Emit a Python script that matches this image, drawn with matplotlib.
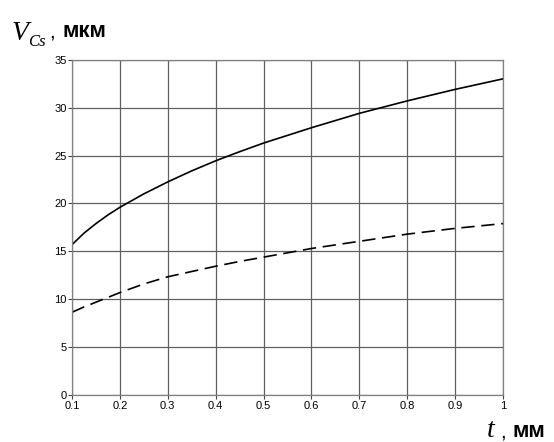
import matplotlib
matplotlib.use('Agg')
import matplotlib.pyplot as plt

# values
t_vals = [0.1, 0.125, 0.15, 0.175, 0.2, 0.25, 0.3, 0.35, 0.4, 0.45, 0.5,
          0.6, 0.7, 0.8, 0.9, 1.0]
v_solid = [15.7, 16.9, 17.9, 18.8, 19.6, 21.0, 22.25, 23.4, 24.45, 25.4, 26.3,
           27.9, 29.4, 30.7, 31.9, 33.0]
v_dashed = [8.65, 9.2, 9.7, 10.2, 10.7, 11.6, 12.35, 12.9, 13.45, 13.95, 14.4,
            15.3, 16.05, 16.8, 17.4, 17.9]

x_ticks = [0.1, 0.2, 0.3, 0.4, 0.5, 0.6, 0.7, 0.8, 0.9, 1.0]
x_labels = ['0.1', '0.2', '0.3', '0.4', '0.5', '0.6', '0.7', '0.8', '0.9', '1']
y_ticks = [0, 5, 10, 15, 20, 25, 30, 35]

fig = plt.figure(figsize=(5.54, 4.42), dpi=100)
ax = fig.add_axes([0.130, 0.106, 0.778, 0.759])

ax.plot(t_vals, v_solid, color='black', lw=1.2)
ax.plot(t_vals, v_dashed, color='black', lw=1.2, dashes=(8, 4))

ax.set_xlim(0.1, 1.0)
ax.set_ylim(0, 35)
ax.set_xticks(x_ticks)
ax.set_xticklabels(x_labels)
ax.set_yticks(y_ticks)
ax.grid(True, color='#606060', lw=0.9)
ax.set_axisbelow(True)

for s in ax.spines.values():
    s.set_color('#808080')
    s.set_linewidth(0.9)

ax.tick_params(axis='both', direction='out', length=3, width=0.8,
               color='#404040', labelsize=8, pad=1)
for lab in ax.get_xticklabels() + ax.get_yticklabels():
    lab.set_family('Liberation Sans')

# axis captions
fig.text(12 / 554, 1 - 40 / 442, 'V', family='Liberation Serif',
         style='italic', fontsize=20, va='baseline', ha='left')
fig.text(28 / 554, 1 - 46 / 442, 'Cs', family='Liberation Serif',
         style='italic', fontsize=12, va='baseline', ha='left')
fig.text(49 / 554, 1 - 37 / 442, ',', family='Liberation Sans',
         fontsize=15, va='baseline', ha='left')
fig.text(62 / 554, 1 - 37 / 442, 'мкм', family='Liberation Sans',
         weight='bold', fontsize=16, va='baseline', ha='left')

fig.text(487 / 554, 1 - 437 / 442, 't', family='Liberation Serif',
         style='italic', fontsize=20, va='baseline', ha='left')
fig.text(500 / 554, 1 - 437 / 442, ',', family='Liberation Sans',
         fontsize=15, va='baseline', ha='left')
fig.text(513 / 554, 1 - 437 / 442, 'мм', family='Liberation Sans',
         weight='bold', fontsize=16, va='baseline', ha='left')

fig.savefig('out.png', dpi=100)
